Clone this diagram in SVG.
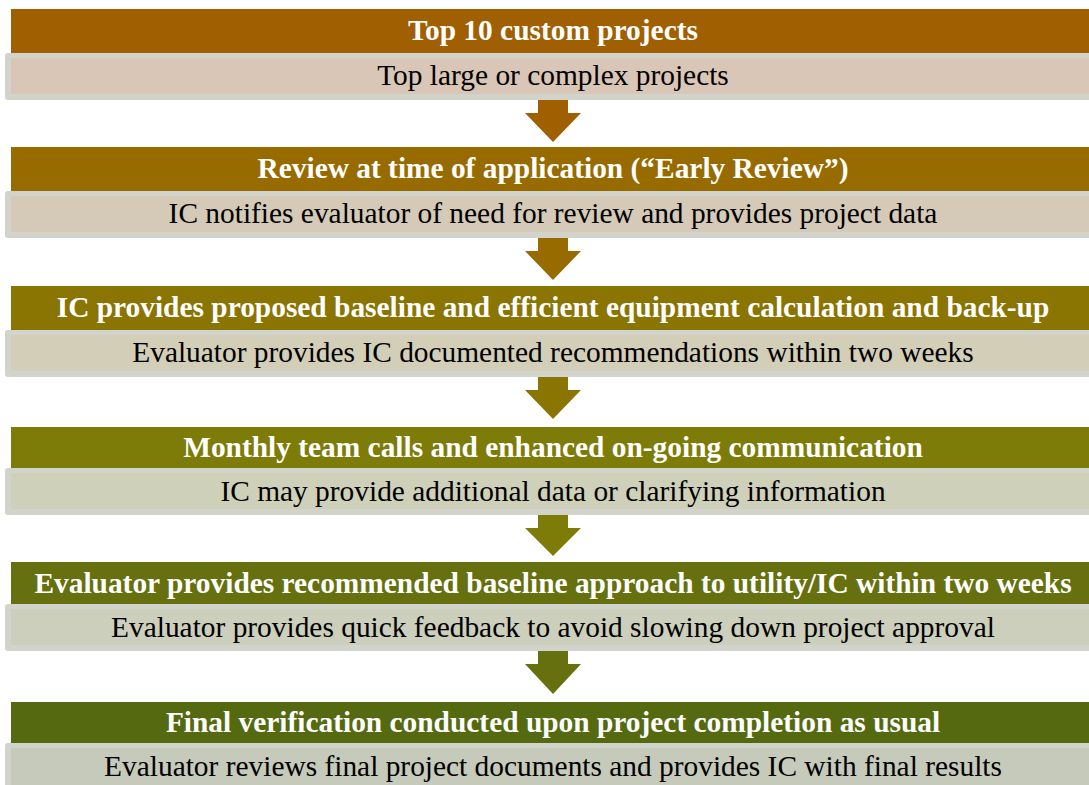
<svg xmlns="http://www.w3.org/2000/svg" width="1089" height="785" viewBox="0 0 1089 785">
<style>
.hd{font-family:"Liberation Serif","Times New Roman",serif;font-weight:bold;font-size:29.4px;fill:#fff;text-anchor:middle}
.sb{font-family:"Liberation Serif","Times New Roman",serif;font-size:29.4px;fill:#000;text-anchor:middle}
.frame{fill:#D2D3CB}
</style>
<rect width="1089" height="785" fill="#fff"/>
<g id="connectors">
<path d="M538,97 H568 V113 H581 L553,142 L525,113 H538 Z" fill="#A05F00"/>
<path d="M538,235 H568 V251 H581 L553,280 L525,251 H538 Z" fill="#976B00"/>
<path d="M538,374 H568 V390 H581 L553,419 L525,390 H538 Z" fill="#8A7402"/>
<path d="M538,512 H568 V528 H581 L553,556 L525,528 H538 Z" fill="#7D7C08"/>
<path d="M538,648 H568 V664 H581 L553,694 L525,664 H538 Z" fill="#66700E"/>
</g>
<g id="step1">
<rect x="11" y="9" width="1090" height="44" fill="#A05F00"/>
<rect class="frame" x="5" y="53" width="1100" height="47" rx="3"/>
<rect x="11" y="58" width="1090" height="36" fill="#D9C6B7"/>
<text class="hd" x="553" y="40">Top 10 custom projects</text>
<text class="sb" x="553" y="85">Top large or complex projects</text>
</g>
<g id="step2">
<rect x="11" y="147" width="1090" height="44" fill="#976B00"/>
<rect class="frame" x="5" y="191" width="1100" height="47" rx="3"/>
<rect x="11" y="196" width="1090" height="36" fill="#D4CAB7"/>
<text class="hd" x="553" y="178">Review at time of application (“Early Review”)</text>
<text class="sb" x="553" y="223">IC notifies evaluator of need for review and provides project data</text>
</g>
<g id="step3">
<rect x="11" y="286" width="1090" height="44" fill="#8A7402"/>
<rect class="frame" x="5" y="330" width="1100" height="47" rx="3"/>
<rect x="11" y="335" width="1090" height="36" fill="#D3CEB8"/>
<text class="hd" x="553" y="317">IC provides proposed baseline and efficient equipment calculation and back-up</text>
<text class="sb" x="553" y="362">Evaluator provides IC documented recommendations within two weeks</text>
</g>
<g id="step4">
<rect x="11" y="427" width="1090" height="42" fill="#7D7C08"/>
<rect class="frame" x="5" y="468" width="1100" height="47" rx="3"/>
<rect x="11" y="473" width="1090" height="36" fill="#CFD0B9"/>
<text class="hd" x="553" y="457">Monthly team calls and enhanced on-going communication</text>
<text class="sb" x="553" y="501">IC may provide additional data or clarifying information</text>
</g>
<g id="step5">
<rect x="11" y="562" width="1090" height="43" fill="#66700E"/>
<rect class="frame" x="5" y="604" width="1100" height="47" rx="3"/>
<rect x="11" y="609" width="1090" height="36" fill="#CCCFBC"/>
<text class="hd" x="553" y="593">Evaluator provides recommended baseline approach to utility/IC within two weeks</text>
<text class="sb" x="553" y="637">Evaluator provides quick feedback to avoid slowing down project approval</text>
</g>
<g id="step6">
<rect x="11" y="702" width="1090" height="42" fill="#556A10"/>
<rect class="frame" x="5" y="743" width="1100" height="47" rx="3"/>
<rect x="11" y="748" width="1090" height="40" fill="#C6CABB"/>
<text class="hd" x="553" y="732">Final verification conducted upon project completion as usual</text>
<text class="sb" x="553" y="776">Evaluator reviews final project documents and provides IC with final results</text>
</g>
</svg>
